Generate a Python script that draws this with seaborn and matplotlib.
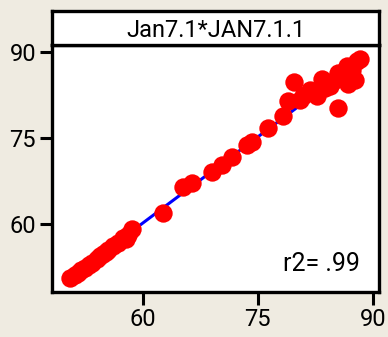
import matplotlib
matplotlib.use("Agg")
import matplotlib.pyplot as plt
import seaborn as sns
import pandas as pd

# Data
jan71 = [50.6, 51.2, 51.6, 52.0, 52.5, 53.0, 53.4, 54.0, 54.4, 54.8, 55.2, 55.5, 56.1,
         56.8, 57.4, 57.8, 58.1, 58.6, 62.7, 65.3, 66.4, 69.0, 70.3, 71.6, 73.6, 74.3,
         76.3, 78.3, 79.0, 79.7, 80.5, 80.9, 81.8, 82.7, 83.4, 83.8, 84.4, 85.1, 85.5,
         85.5, 86.0, 86.6, 86.8, 87.3, 87.7, 87.9, 88.3]
jan711 = [50.6, 51.0, 51.5, 51.9, 52.3, 52.8, 53.2, 53.9, 54.3, 54.8, 55.1, 55.5, 56.2,
          56.7, 57.6, 57.4, 58.1, 59.1, 61.9, 66.5, 67.2, 69.1, 70.3, 71.7, 73.8, 74.3,
          76.7, 78.8, 81.5, 84.8, 81.6, 82.3, 83.4, 82.3, 85.3, 83.7, 84.1, 85.1, 80.2,
          86.3, 86.0, 87.6, 84.4, 86.9, 85.1, 88.4, 88.8]
xticks = [60, 75, 90]
yticks = [60, 75, 90]
title = "Jan7.1*JAN7.1.1"
r2_label = "r2= .99"

df = pd.DataFrame({"Jan7.1": jan71, "JAN7.1.1": jan711})

sns.set_theme(style="ticks")
plt.rcParams["font.family"] = ["Roboto", "DejaVu Sans"]

bg = "#EFEBE1"
fig = plt.figure(figsize=(3.88, 3.37), dpi=100, facecolor=bg)

W, H = 388, 337
L, R = 52, 379
T, B = 45, 292
ST = 11
ax = fig.add_axes([L / W, 1 - B / H, (R - L) / W, (B - T) / H])
ax.set_facecolor("white")

sns.regplot(data=df, x="Jan7.1", y="JAN7.1.1", ax=ax, ci=None,
            scatter_kws=dict(color="#FF0000", s=175, alpha=1, linewidths=0, zorder=3),
            line_kws=dict(color="#0000FF", lw=2.2, zorder=2))

ax.set_xlim(48.2, 90.8)
ax.set_ylim(48.1, 91.2)
ax.set_xticks(xticks)
ax.set_yticks(yticks)
ax.set_xlabel("")
ax.set_ylabel("")
ax.tick_params(axis="both", direction="out", length=9, width=2.2, color="black",
               labelsize=17, labelcolor="black", pad=2.5)
for sp in ax.spines.values():
    sp.set_visible(True)
    sp.set_color("black")
    sp.set_linewidth(2.4)

ax.text((360 - L) / (R - L), (B - 264) / (B - T), r2_label, transform=ax.transAxes,
        ha="right", va="center", fontsize=18, color="black")

# title strip
sax = fig.add_axes([L / W, 1 - T / H, (R - L) / W, (T - ST) / H])
sax.set_facecolor("white")
sax.set_xticks([])
sax.set_yticks([])
for sp in sax.spines.values():
    sp.set_visible(True)
    sp.set_color("black")
    sp.set_linewidth(2.4)
sax.text(0.5, 0.42, title, transform=sax.transAxes, ha="center", va="center",
         fontsize=17, color="black")

fig.savefig("out.png", dpi=100, facecolor=bg)
